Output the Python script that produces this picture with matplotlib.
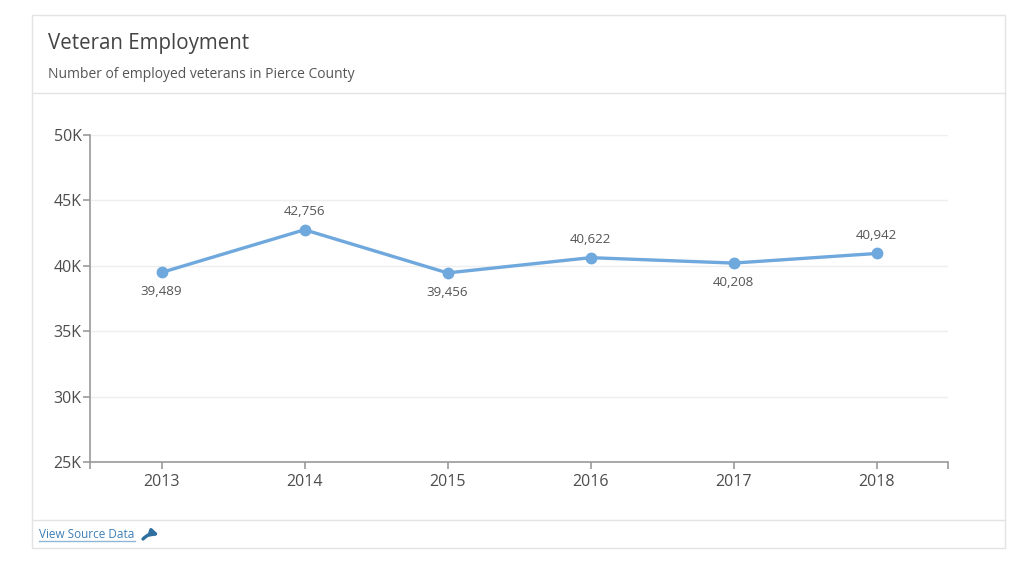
import matplotlib.pyplot as plt
from matplotlib.patches import Rectangle, FancyArrowPatch
from matplotlib.lines import Line2D

plt.rcParams['font.family'] = ['Open Sans', 'DejaVu Sans']

# data
years = ['2013', '2014', '2015', '2016', '2017', '2018']
employed = [39489, 42756, 39456, 40622, 40208, 40942]
label_above = [False, True, False, True, False, True]
y_ticks = [25000, 30000, 35000, 40000, 45000, 50000]
y_tick_labels = ['25K', '30K', '35K', '40K', '45K', '50K']

W, H = 1024, 562
fig = plt.figure(figsize=(W / 100, H / 100), dpi=100)
fig.patch.set_facecolor('white')

def fx(px):
    return px / W

def fy(py):
    return 1 - py / H

# card frame and separators
fig.patches.append(Rectangle((fx(32), fy(548)), fx(1005) - fx(32), fy(15) - fy(548),
                             transform=fig.transFigure, facecolor='none',
                             edgecolor='#e3e3e3', linewidth=1))
for py in (93, 520):
    fig.add_artist(Line2D([fx(32), fx(1005)], [fy(py), fy(py)],
                          transform=fig.transFigure, color='#e3e3e3', linewidth=1))

fig.text(fx(48), fy(43), 'Veteran Employment', fontsize=14.8, color='#444444', va='center')
fig.text(fx(48), fy(75), 'Number of employed veterans in Pierce County', fontsize=10,
         color='#555555', va='center')

fig.text(fx(39), fy(534), 'View Source Data', fontsize=8.5, color='#3f7fb5', va='center')
fig.add_artist(Line2D([fx(39), fx(135)], [fy(541), fy(541)], transform=fig.transFigure,
                      color='#8fb8d8', linewidth=1))
fig.add_artist(FancyArrowPatch((fx(143), fy(539)), (fx(159), fy(535)),
                               transform=fig.transFigure, connectionstyle='arc3,rad=-0.3',
                               arrowstyle='-|>', mutation_scale=10, shrinkA=0, shrinkB=0,
                               color='#2f6f9f', linewidth=2.4))

# chart area
ax = fig.add_axes([fx(90), fy(462), fx(948) - fx(90), fy(135) - fy(462)])
x = list(range(len(years)))
ax.plot(x, employed, color='#6fa8dc', linewidth=2.4, marker='o', markersize=7.5, zorder=3)

for xi, v, up in zip(x, employed, label_above):
    ax.annotate(f'{v:,}', (xi, v), xytext=(0, 13 if up else -14), textcoords='offset points',
                ha='center', va='center', fontsize=9.6, color='#555555')

ax.set_xlim(-0.5, len(years) - 0.5)
ax.set_ylim(25000, 50000)
ax.set_xticks(x)
ax.set_xticklabels(years)
ax.set_xticks([-0.5, len(years) - 0.5], minor=True)
ax.set_yticks(y_ticks)
ax.set_yticklabels(y_tick_labels)
ax.grid(axis='y', color='#eeeeee', linewidth=1)
ax.set_axisbelow(True)

for s in ('top', 'right'):
    ax.spines[s].set_visible(False)
for s in ('left', 'bottom'):
    ax.spines[s].set_color('#999999')
    ax.spines[s].set_linewidth(1.2)

ax.tick_params(axis='both', which='both', colors='#999999', labelcolor='#4d4d4d',
               labelsize=11.5, length=5, width=1.2)
ax.tick_params(axis='x', pad=4)
ax.tick_params(axis='y', pad=1)

fig.savefig('out.png', dpi=100, facecolor='white')
